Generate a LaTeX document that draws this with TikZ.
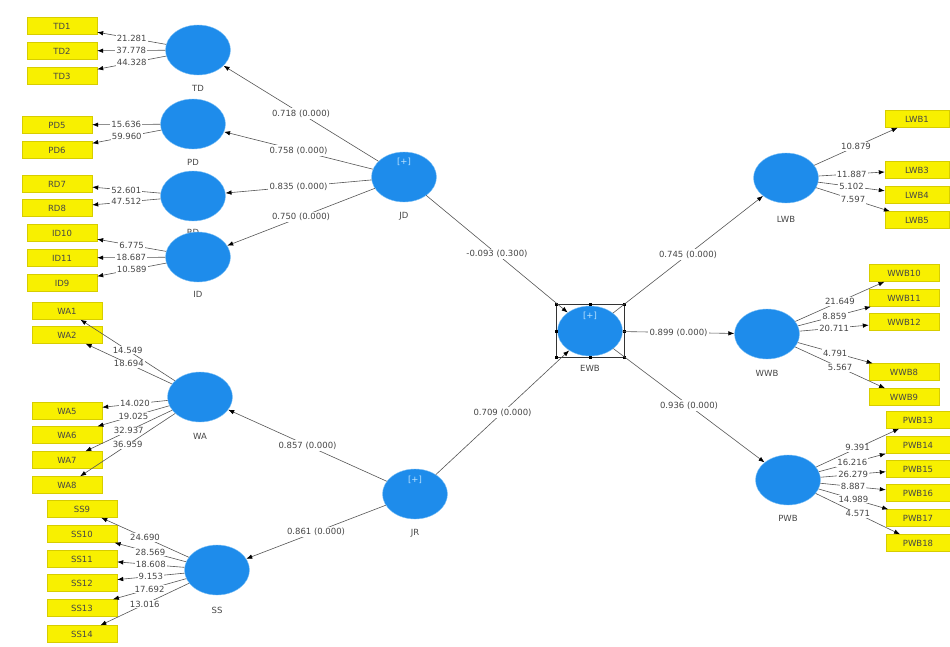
\documentclass[tikz,border=0pt]{standalone}
\usepackage{fontspec}
\setmainfont{DejaVu Sans}
\usetikzlibrary{shapes.geometric,arrows.meta}
\definecolor{lvblue}{RGB}{30,140,235}
\definecolor{lvrim}{RGB}{130,195,245}
\definecolor{mvyellow}{RGB}{248,240,0}
\definecolor{mvrim}{RGB}{215,205,0}
\definecolor{plustext}{RGB}{190,228,255}
\definecolor{linegray}{RGB}{85,85,85}
\definecolor{textgray}{RGB}{70,70,70}
\begin{document}
\begin{tikzpicture}%
	[x=1pt, y=-1pt,
	font=\fontsize{8.5}{10}\selectfont,
	construct/.style={ellipse, fill=lvblue, draw=lvrim, thin, minimum width=65pt, minimum height=50pt, inner sep=0pt},
	indicator/.style={rectangle, fill=mvyellow, draw=mvrim, thin, minimum width=70pt, minimum height=17pt, inner sep=0pt, text=textgray},
	narrow/.style={minimum width=64pt},
	cname/.style={text=textgray, inner sep=1pt},
	plus/.style={text=plustext, inner sep=0pt},
	link/.style={draw=linegray, line width=0.6pt, -{Latex[length=6pt,width=4.5pt,color=black]}},
	weight/.style={midway, fill=white, text=textgray, inner sep=1pt},
	coef/.style={midway, fill=white, text=textgray, inner sep=1.5pt},
	handle/.style={fill=black, inner sep=0pt, minimum size=3pt},
	selbox/.style={draw=black!80, line width=0.6pt}]
%
\useasboundingbox (0,0) rectangle (950,646);
%
%% Names of the constructs (RD is hidden behind ID):
%%
\node[cname] (TDname) at (198,88) {TD};
\node[cname] (PDname) at (193,162) {PD};
\node[cname] (RDname) at (193,232) {RD};
\node[cname] (IDname) at (198,294) {ID};
\node[cname] (JDname) at (404,216) {JD};
\node[cname] (WAname) at (200,436) {WA};
\node[cname] (JRname) at (415,533) {JR};
\node[cname] (SSname) at (217,610) {SS};
\node[cname] (EWBname) at (590,368) {EWB};
\node[cname] (LWBname) at (786,219) {LWB};
\node[cname] (WWBname) at (767,373) {WWB};
\node[cname] (PWBname) at (788,518) {PWB};
%%
%%
%% The constructs:
%%
\node[construct] (TD) at (198,50) {};
\node[construct] (PD) at (193,124) {};
\node[construct] (RD) at (193,196) {};
\node[construct] (ID) at (198,257) {};
\node[construct] (JD) at (404,177) {};
\node[construct] (WA) at (200,397) {};
\node[construct] (JR) at (415,494) {};
\node[construct] (SS) at (217,570) {};
\node[construct] (EWB) at (590,331) {};
\node[construct] (LWB) at (786,178) {};
\node[construct] (WWB) at (767,334) {};
\node[construct] (PWB) at (788,480) {};
\node[plus] (JDplus) at (404,162) {[+]};
\node[plus] (JRplus) at (415,480) {[+]};
\node[plus] (EWBplus) at (590,316) {[+]};
%%
%%
%% Selection frame round EWB:
%%
\draw[selbox] (556,304) rectangle (624,357);
\node[handle] (h1) at (556,304) {};
\node[handle] (h2) at (590,304) {};
\node[handle] (h3) at (624,304) {};
\node[handle] (h4) at (556,331) {};
\node[handle] (h5) at (624,331) {};
\node[handle] (h6) at (556,357) {};
\node[handle] (h7) at (590,357) {};
\node[handle] (h8) at (624,357) {};
%%
%%
%% The indicators on the left:
%%
\node[indicator] (TD1) at (62,26) {TD1};
\node[indicator] (TD2) at (62,51) {TD2};
\node[indicator] (TD3) at (62,76) {TD3};
\node[indicator] (PD5) at (57,125) {PD5};
\node[indicator] (PD6) at (57,150) {PD6};
\node[indicator] (RD7) at (57,184) {RD7};
\node[indicator] (RD8) at (57,208) {RD8};
\node[indicator] (ID10) at (62,233) {ID10};
\node[indicator] (ID11) at (62,258) {ID11};
\node[indicator] (ID9) at (62,283) {ID9};
\node[indicator] (WA1) at (67,311) {WA1};
\node[indicator] (WA2) at (67,335) {WA2};
\node[indicator] (WA5) at (67,411) {WA5};
\node[indicator] (WA6) at (67,435) {WA6};
\node[indicator] (WA7) at (67,460) {WA7};
\node[indicator] (WA8) at (67,485) {WA8};
\node[indicator] (SS9) at (82,509) {SS9};
\node[indicator] (SS10) at (82,534) {SS10};
\node[indicator] (SS11) at (82,559) {SS11};
\node[indicator] (SS12) at (82,583) {SS12};
\node[indicator] (SS13) at (82,608) {SS13};
\node[indicator] (SS14) at (82,634) {SS14};
%%
%%
%% The indicators on the right:
%%
\node[indicator,narrow] (LWB1) at (917,119) {LWB1};
\node[indicator,narrow] (LWB3) at (917,170) {LWB3};
\node[indicator,narrow] (LWB4) at (917,195) {LWB4};
\node[indicator,narrow] (LWB5) at (917,220) {LWB5};
\node[indicator] (WWB10) at (904,273) {WWB10};
\node[indicator] (WWB11) at (904,298) {WWB11};
\node[indicator] (WWB12) at (904,322) {WWB12};
\node[indicator] (WWB8) at (904,372) {WWB8};
\node[indicator] (WWB9) at (904,397) {WWB9};
\node[indicator,narrow] (PWB13) at (918,420) {PWB13};
\node[indicator,narrow] (PWB14) at (918,445) {PWB14};
\node[indicator,narrow] (PWB15) at (918,469) {PWB15};
\node[indicator,narrow] (PWB16) at (918,493) {PWB16};
\node[indicator,narrow] (PWB17) at (918,518) {PWB17};
\node[indicator,narrow] (PWB18) at (918,543) {PWB18};
%%
%%
%% Inner model
%%
\draw[link] (JD) -- node[coef] (cTD) {0.718 (0.000)} (TD);
\draw[link] (JD) -- node[coef] (cPD) {0.758 (0.000)} (PD);
\draw[link] (JD) -- node[coef] (cRD) {0.835 (0.000)} (RD);
\draw[link] (JD) -- node[coef] (cID) {0.750 (0.000)} (ID);
\draw[link] (JR) -- node[coef] (cWA) {0.857 (0.000)} (WA);
\draw[link] (JR) -- node[coef] (cSS) {0.861 (0.000)} (SS);
\draw[link] (JD) -- node[coef] (cJD) {-0.093 (0.300)} (EWB);
\draw[link] (JR) -- node[coef] (cJR) {0.709 (0.000)} (EWB);
\draw[link] (EWB) -- node[coef] (cLWB) {0.745 (0.000)} (LWB);
\draw[link] (EWB) -- node[coef] (cWWB) {0.899 (0.000)} (WWB);
\draw[link] (EWB) -- node[coef] (cPWB) {0.936 (0.000)} (PWB);
%%
%%
%% Outer model, left
%%
\draw[link] (TD) -- node[weight] (wTD1) {21.281} (TD1);
\draw[link] (TD) -- node[weight] (wTD2) {37.778} (TD2);
\draw[link] (TD) -- node[weight] (wTD3) {44.328} (TD3);
\draw[link] (PD) -- node[weight] (wPD5) {15.636} (PD5);
\draw[link] (PD) -- node[weight] (wPD6) {59.960} (PD6);
\draw[link] (RD) -- node[weight] (wRD7) {52.601} (RD7);
\draw[link] (RD) -- node[weight] (wRD8) {47.512} (RD8);
\draw[link] (ID) -- node[weight] (wID10) {6.775} (ID10);
\draw[link] (ID) -- node[weight] (wID11) {18.687} (ID11);
\draw[link] (ID) -- node[weight] (wID9) {10.589} (ID9);
\draw[link] (WA) -- node[weight] (wWA1) {14.549} (WA1);
\draw[link] (WA) -- node[weight] (wWA2) {18.694} (WA2);
\draw[link] (WA) -- node[weight] (wWA5) {14.020} (WA5);
\draw[link] (WA) -- node[weight] (wWA6) {19.025} (WA6);
\draw[link] (WA) -- node[weight] (wWA7) {32.937} (WA7);
\draw[link] (WA) -- node[weight] (wWA8) {36.959} (WA8);
\draw[link] (SS) -- node[weight] (wSS9) {24.690} (SS9);
\draw[link] (SS) -- node[weight] (wSS10) {28.569} (SS10);
\draw[link] (SS) -- node[weight] (wSS11) {18.608} (SS11);
\draw[link] (SS) -- node[weight] (wSS12) {9.153} (SS12);
\draw[link] (SS) -- node[weight] (wSS13) {17.692} (SS13);
\draw[link] (SS) -- node[weight] (wSS14) {13.016} (SS14);
%%
%%
%% Outer model, right
%%
\draw[link] (LWB) -- node[weight] (wLWB1) {10.879} (LWB1);
\draw[link] (LWB) -- node[weight] (wLWB3) {11.887} (LWB3);
\draw[link] (LWB) -- node[weight] (wLWB4) {5.102} (LWB4);
\draw[link] (LWB) -- node[weight] (wLWB5) {7.597} (LWB5);
\draw[link] (WWB) -- node[weight] (wWWB10) {21.649} (WWB10);
\draw[link] (WWB) -- node[weight] (wWWB11) {8.859} (WWB11);
\draw[link] (WWB) -- node[weight] (wWWB12) {20.711} (WWB12);
\draw[link] (WWB) -- node[weight] (wWWB8) {4.791} (WWB8);
\draw[link] (WWB) -- node[weight] (wWWB9) {5.567} (WWB9);
\draw[link] (PWB) -- node[weight] (wPWB13) {9.391} (PWB13);
\draw[link] (PWB) -- node[weight] (wPWB14) {16.216} (PWB14);
\draw[link] (PWB) -- node[weight] (wPWB15) {26.279} (PWB15);
\draw[link] (PWB) -- node[weight] (wPWB16) {8.887} (PWB16);
\draw[link] (PWB) -- node[weight] (wPWB17) {14.989} (PWB17);
\draw[link] (PWB) -- node[weight] (wPWB18) {4.571} (PWB18);
%%
%%
\end{tikzpicture}
\end{document}
